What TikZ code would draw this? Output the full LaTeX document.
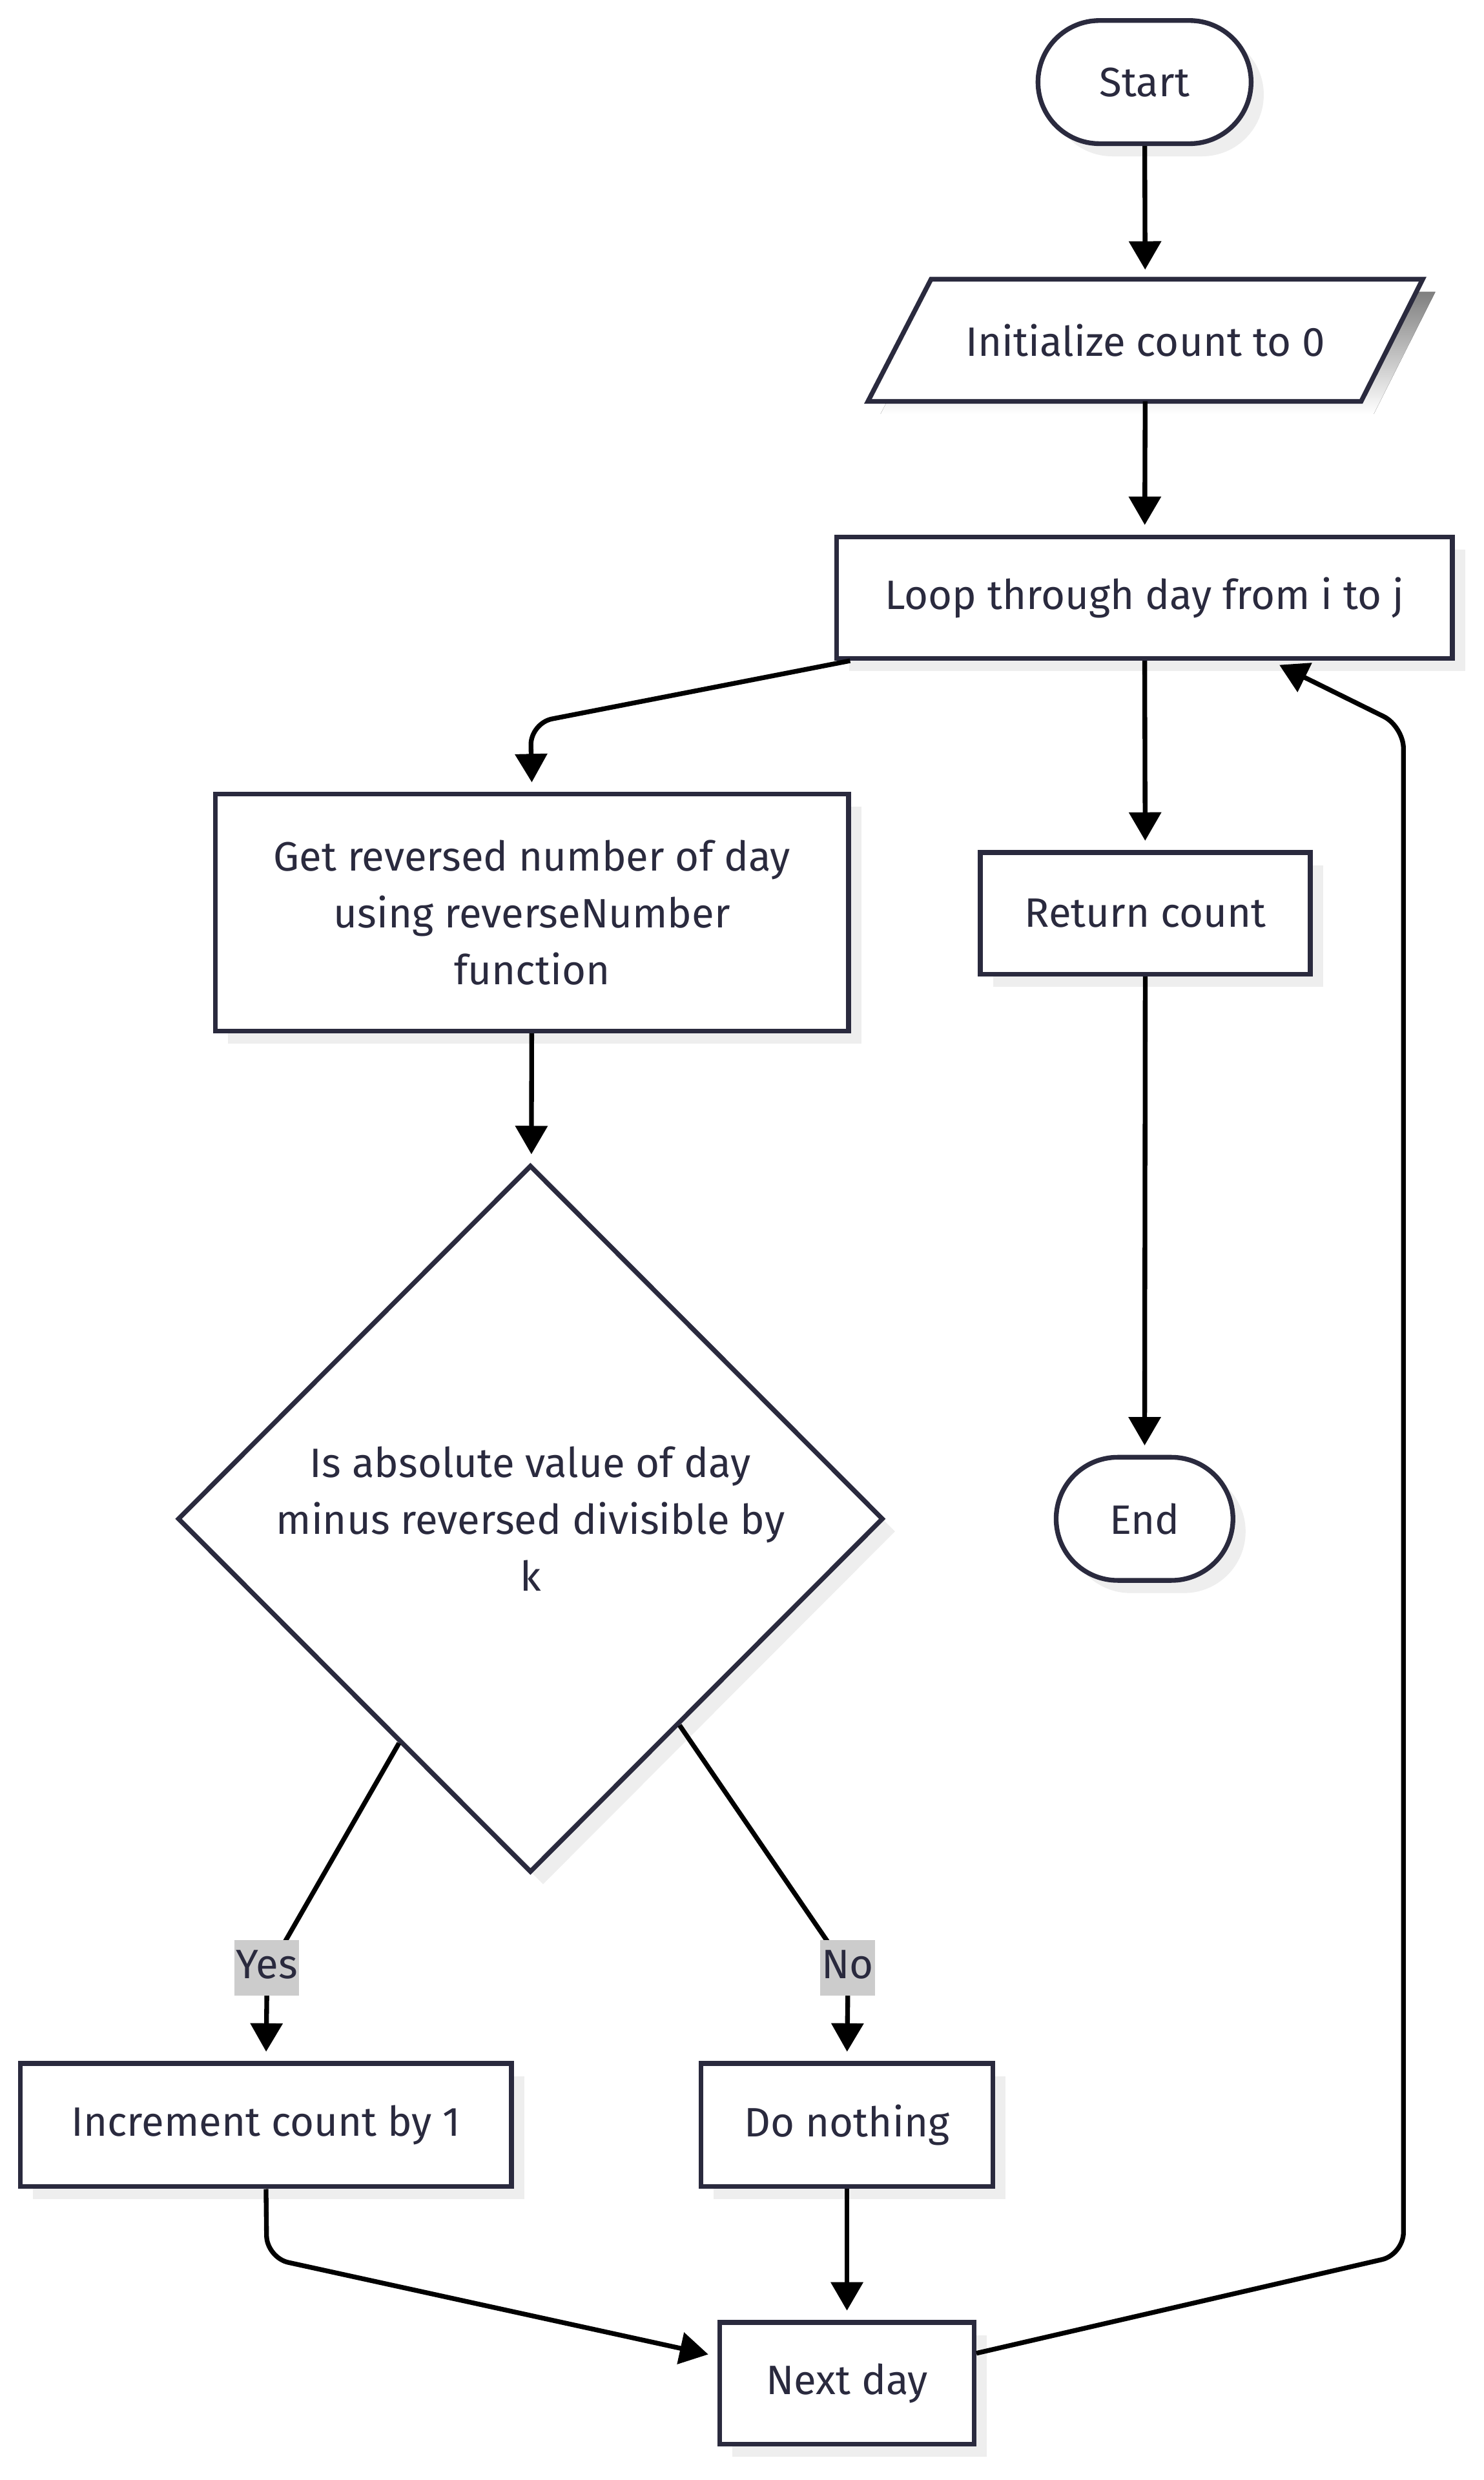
\documentclass[tikz,border=0pt]{standalone}
\usepackage{fontspec}
\setmainfont{Fira Sans}
\usetikzlibrary{arrows.meta,shapes.geometric,shadows,calc}
\definecolor{ink}{RGB}{42,42,62}
\definecolor{shade}{RGB}{238,238,238}
\definecolor{lblbg}{RGB}{204,204,204}
\newcommand\boxfont{\fontsize{26}{36}\selectfont}
\begin{document}
\begin{tikzpicture}[x=1pt,y=-1pt,
  shd/.style={drop shadow={shadow xshift=8pt,shadow yshift=-8pt,fill=shade,opacity=1}},
  box/.style={draw=ink,line width=3pt,fill=white,text=ink,align=center,inner sep=0pt,font=\boxfont,shd},
  ghost/.style={inner sep=0pt,text=ink,align=center,font=\boxfont},
  arr/.style={-{Triangle[length=18pt,width=20pt]},line width=3pt,black,shorten >=6pt},
  lbl/.style={fill=lblbg,text=ink,font=\boxfont,inner xsep=1pt,inner ysep=0pt,text height=24pt,text depth=11pt}]
\useasboundingbox (0,0) rectangle (940,1570.8);
\fill[white] (0,0) rectangle (940,1570.8);
% nodes
\node[box,rounded corners=39pt,minimum width=135pt,minimum height=78pt] (start) at (725,52) {Start};
\node[ghost,minimum width=351pt,minimum height=77pt] (init) at (725.5,215.5) {};
\fill[shade] ($(init.north west)+(48,8)$) -- ($(init.north east)+(8,8)$) -- ($(init.south east)+(-31,8)$) -- ($(init.south west)+(8,8)$) -- cycle;
\filldraw[draw=ink,fill=white,line width=3pt,line join=miter] ($(init.north west)+(40,0)$) -- (init.north east) -- ($(init.south east)+(-39,0)$) -- (init.south west) -- cycle;
\node[ghost] at (init) {Initialize count to 0};
\node[box,minimum width=390pt,minimum height=77pt] (loop) at (725,378.5) {Loop through day from i to j};
\node[box,minimum width=401pt,minimum height=150pt] (getrev) at (337,578) {Get reversed number of day\\using reverseNumber\\function};
\node[box,minimum width=209pt,minimum height=77pt] (ret) at (725.5,578.5) {Return count};
\node[diamond,draw=ink,line width=3pt,fill=white,inner sep=0pt,minimum width=447pt,minimum height=448pt,shd] (dec) at (336,962) {};
\node[ghost] at (dec) {Is absolute value of day\\minus reversed divisible by\\k};
\node[box,rounded corners=39pt,minimum width=112pt,minimum height=78pt] (end) at (725,962) {End};
\node[box,minimum width=311pt,minimum height=78pt] (inc) at (168.5,1346) {Increment count by 1};
\node[box,minimum width=185pt,minimum height=78pt] (nothing) at (536.5,1346) {Do nothing};
\node[box,minimum width=161pt,minimum height=77pt] (next) at (536.5,1509.5) {Next day};
% helper coordinates
\coordinate (c1) at (336,458);
\coordinate (yA) at ($(dec.south)!0.37!(dec.west)$);
\coordinate (nA) at ($(dec.south)!0.42!(dec.east)$);
\coordinate (c2) at (169,1430);
\coordinate (c3) at (889,1428);
\coordinate (c4) at (889,460);
% edges
\draw[arr] (start) -- (init);
\draw[arr] (init) -- (loop);
\draw[arr,rounded corners=14pt] ($(loop.south west)+(10,0)$) -- (c1) -- (getrev.north);
\draw[arr] (loop) -- (ret);
\draw[arr] (getrev) -- (dec);
\draw[arr] (yA) -- (181,1229) .. controls (169,1250) .. (169,1265) -- (inc.north);
\draw[arr] (nA) -- (523,1228) .. controls (537,1248) .. (537,1265) -- (nothing.north);
\draw[arr] (ret) -- (end);
\draw[arr,rounded corners=14pt] (inc.south) -- (c2) -- ($(next.west)+(0,-17)$);
\draw[arr] (nothing) -- (next);
\draw[arr,rounded corners=14pt] ($(next.east)+(0,-19)$) -- (c3) -- (c4) -- ($(loop.south)+(80,0)$);
% edge labels
\node[lbl] (yes) at (169,1246.5) {Yes};
\node[lbl] (no) at (537,1246.5) {No};
\end{tikzpicture}
\end{document}
